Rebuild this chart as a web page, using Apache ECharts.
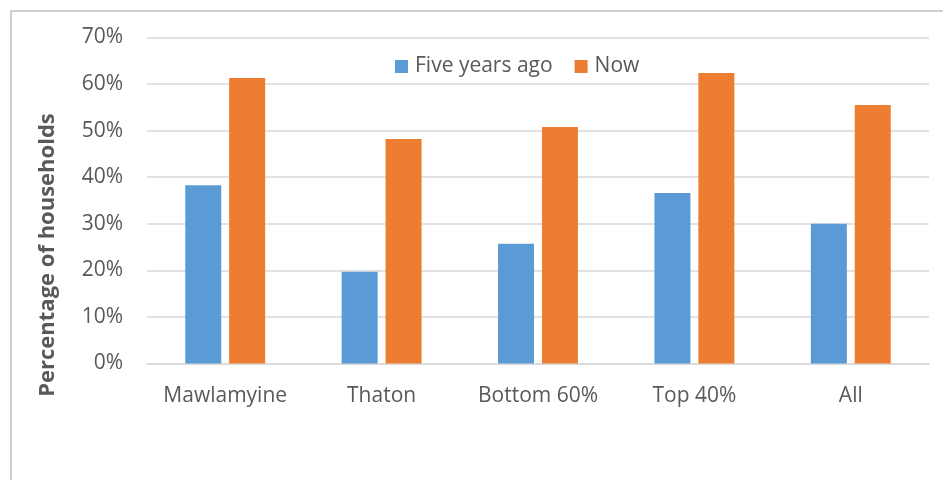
<!DOCTYPE html>
<html>
<head>
<meta charset="utf-8">
<script src="https://cdn.jsdelivr.net/npm/echarts@6/dist/echarts.min.js"></script>
<style>
html,body{margin:0;padding:0;background:#fff;}
#chart{width:943px;height:480px;}
</style>
</head>
<body>
<div id="chart"></div>
<script>
const categories = ['Mawlamyine', 'Thaton', 'Bottom 60%', 'Top 40%', 'All'];
const fiveYearsAgo = [38.3, 19.7, 25.7, 36.6, 30.0];
const now = [61.3, 48.2, 50.8, 62.4, 55.5];
const yTicks = [0, 10, 20, 30, 40, 50, 60, 70];
const seriesNames = ['Five years ago', 'Now'];
const yTitle = 'Percentage of households';

const FONT = 'Open Sans';
const chart = echarts.init(document.getElementById('chart'), null, {renderer: 'canvas'});
chart.setOption({
  animation: false,
  backgroundColor: '#ffffff',
  color: ['#5b9bd5', '#ed7d31'],
  textStyle: {fontFamily: FONT},
  grid: {left: 147, right: 14, top: 37.5, bottom: 116.5, containLabel: false},
  legend: {
    data: seriesNames,
    left: 390,
    top: 51,
    itemWidth: 13,
    itemHeight: 13,
    itemGap: 22,
    icon: 'rect',
    textStyle: {fontFamily: FONT, fontSize: 21, color: '#595959', padding: [0, 0, 0, 2]}
  },
  xAxis: {
    type: 'category',
    data: categories,
    axisLine: {show: true, lineStyle: {color: '#d9d9d9', width: 1.5}},
    axisTick: {show: false},
    axisLabel: {interval: 0, fontFamily: FONT, fontSize: 21, color: '#595959', margin: 22}
  },
  yAxis: {
    type: 'value',
    min: yTicks[0],
    max: yTicks[yTicks.length - 1],
    interval: 10,
    axisLine: {show: false},
    axisTick: {show: false},
    splitLine: {lineStyle: {color: '#d9d9d9', width: 1.5}},
    axisLabel: {fontFamily: FONT, fontSize: 21, color: '#595959', margin: 24, formatter: v => v + '%'}
  },
  series: [
    {name: seriesNames[0], type: 'bar', data: fiveYearsAgo, barWidth: 36, barGap: '22%'},
    {name: seriesNames[1], type: 'bar', data: now, barWidth: 36, barGap: '22%'}
  ],
  graphic: [
    {type: 'rect', left: 8.5, top: 8.5, z: -1, shape: {x: 0, y: 0, width: 1000, height: 600},
     style: {fill: 'none', stroke: '#bfbfbf', lineWidth: 1.5}},
    {type: 'text', x: 48, y: 255, rotation: Math.PI / 2,
     style: {text: yTitle, fontFamily: FONT, fontSize: 22, fontWeight: 'bold', fill: '#595959',
             align: 'center', verticalAlign: 'middle'}}
  ]
});
</script>
</body>
</html>
